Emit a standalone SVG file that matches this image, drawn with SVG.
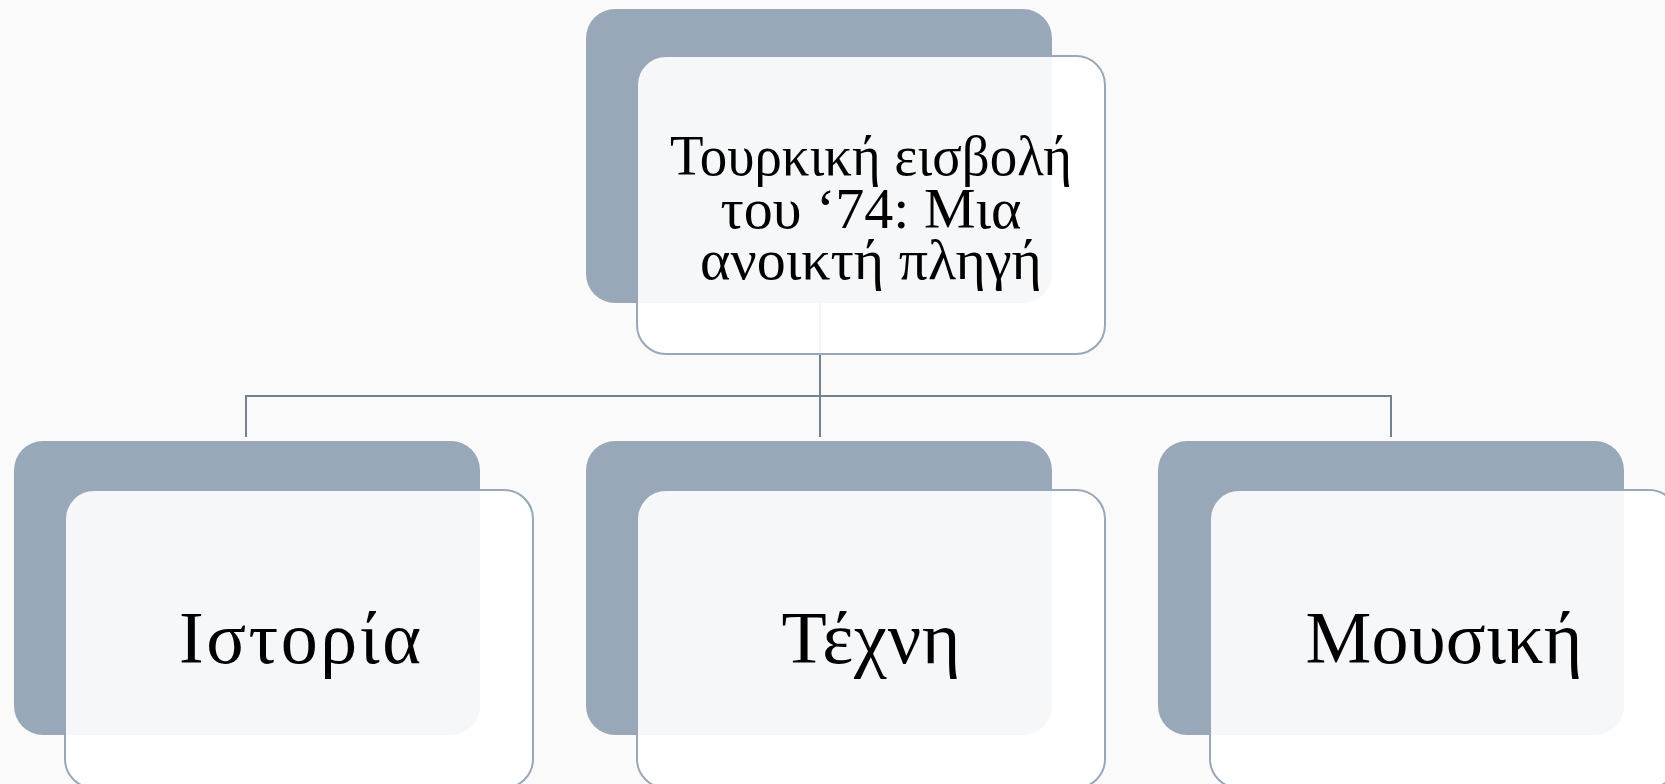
<svg xmlns="http://www.w3.org/2000/svg" width="1665" height="784" viewBox="0 0 1665 784">
<style>
.back{fill:#99A8B8;}
.front{fill:#FFFFFF;fill-opacity:0.9;stroke:#99A8B8;stroke-width:2;}
.conn{fill:none;stroke:#74818F;stroke-width:2;}
.t{font-family:"Liberation Serif","DejaVu Serif",serif;fill:#000;text-anchor:middle;}
.top{font-size:58px;}
.big{font-size:74px;}
</style>
<rect x="0" y="0" width="1665" height="784" fill="#FAFAFA"/>
<g id="connectors">
<path class="conn" d="M820,303 V396 M246,437 V396 H1391 V437 M820,396 V437"/>
</g>
<g id="node-root">
<rect class="back" x="586" y="9" width="466" height="294" rx="29"/>
<rect class="front" x="637" y="56" width="468" height="298" rx="29"/>
<text class="t top" x="871" y="175" textLength="402" lengthAdjust="spacingAndGlyphs">Τουρκική εισβολή</text>
<text class="t top" x="871" y="228">του ‘74: Μια</text>
<text class="t top" x="871" y="279">ανοικτή πληγή</text>
</g>
<g id="node-history">
<rect class="back" x="14" y="441" width="466" height="294" rx="29"/>
<rect class="front" x="65" y="490" width="468" height="298" rx="29"/>
<text class="t big" x="300" y="663" textLength="242" lengthAdjust="spacing">Ιστορία</text>
</g>
<g id="node-art">
<rect class="back" x="586" y="441" width="466" height="294" rx="29"/>
<rect class="front" x="637" y="490" width="468" height="298" rx="29"/>
<text class="t big" x="871" y="663" textLength="179" lengthAdjust="spacing">Τέχνη</text>
</g>
<g id="node-music">
<rect class="back" x="1158" y="441" width="466" height="294" rx="29"/>
<rect class="front" x="1210" y="490" width="468" height="298" rx="29"/>
<text class="t big" x="1444" y="663" textLength="277" lengthAdjust="spacing">Μουσική</text>
</g>
</svg>
